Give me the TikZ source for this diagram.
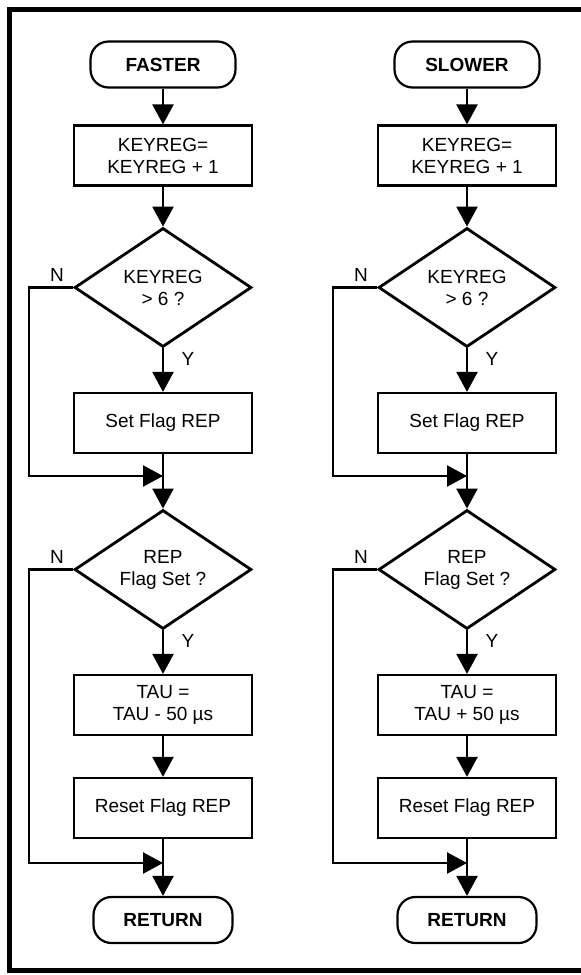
\documentclass[tikz,border=0pt]{standalone}
\usepackage{fontspec}
\setmainfont{Liberation Sans}
\usepackage{tikz}
\usetikzlibrary{arrows.meta,calc,shapes.geometric}

\begin{document}
\begin{tikzpicture}[
  x=1pt, y=-1pt,
  font=\fontsize{19}{22}\selectfont,
  terminal/.style={
    rectangle,
    rounded corners=18pt,
    draw,
    line width=2.2pt,
    minimum width=145pt,
    minimum height=46pt,
    inner sep=0pt,
    font=\fontsize{19}{22}\selectfont\bfseries
  },
  process/.style={
    rectangle,
    draw,
    line width=2.2pt,
    minimum width=178pt,
    minimum height=60pt,
    inner sep=0pt,
    align=center
  },
  decision/.style={
    diamond,
    draw,
    line width=2.8pt,
    aspect=1.5,
    minimum width=177pt,
    minimum height=119pt,
    inner sep=0pt,
    align=center
  },
  flow/.style={-{Triangle[length=20pt,width=21pt]}, line width=2.4pt},
  branch/.style={inner sep=0pt}
]
\useasboundingbox (0,0) rectangle (581,975);

% frame, open on the right
\draw[line width=5pt] (581,9) -- (9.5,9) -- (9.5,970) -- (581,970);

\foreach \c/\x/\entry/\op in {l/163/FASTER/-, r/467/SLOWER/+} {
  \node[terminal] (start-\c) at (\x,64.5) {\entry};
  \node[process] (inc-\c) at (\x,155.5) {KEYREG=\\KEYREG + 1};
  \node[decision] (limit-\c) at (\x,287.5) {KEYREG\\> 6 ?};
  \node[process] (set-\c) at (\x,423) {Set Flag REP};
  \coordinate (join1-\c) at (\x,476);
  \node[decision] (rep-\c) at (\x,569.5) {REP\\Flag Set ?};
  \node[process] (tau-\c) at (\x,705) {TAU =\\TAU \op{} 50 µs};
  \node[process] (reset-\c) at (\x,808) {Reset Flag REP};
  \coordinate (join2-\c) at (\x,863);
  \node[terminal, minimum width=139pt] (ret-\c) at (\x,920) {RETURN};

  \draw[flow] (start-\c) -- (inc-\c);
  \draw[flow] (inc-\c) -- (limit-\c);
  \draw[flow] (limit-\c) -- (set-\c);
  \draw[flow] (set-\c) -- (rep-\c);
  \draw[flow] (limit-\c.west) -- ++(-44,0) |- (join1-\c);
  \draw[flow] (rep-\c) -- (tau-\c);
  \draw[flow] (tau-\c) -- (reset-\c);
  \draw[flow] (reset-\c) -- (ret-\c);
  \draw[flow] (rep-\c.west) -- ++(-44,0) |- (join2-\c);

  \node[branch] (ny1-\c) at ($(limit-\c.west)+(-16,-13)$) {N};
  \node[branch] (yy1-\c) at ($(limit-\c.south)+(25,11)$) {Y};
  \node[branch] (ny2-\c) at ($(rep-\c.west)+(-16,-13)$) {N};
  \node[branch] (yy2-\c) at ($(rep-\c.south)+(25,11)$) {Y};
}

\end{tikzpicture}
\end{document}
